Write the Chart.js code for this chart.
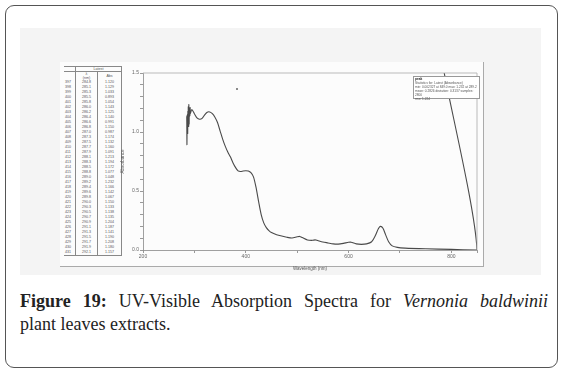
<!DOCTYPE html>
<html>
<head>
<meta charset="utf-8">
<script src="https://cdn.jsdelivr.net/npm/chart.js@4/dist/chart.umd.min.js"></script>
<style>
  html, body { margin: 0; padding: 0; background: #fff; }
  body { width: 565px; height: 377px; position: relative; overflow: hidden; font-family: "Liberation Sans", Arial, sans-serif; }
  .card { position: absolute; left: 5px; top: 5px; width: 551px; height: 361px; border: 1.5px solid #555; border-radius: 9px; }
  .scan { position: absolute; left: 20px; top: 28px; width: 521px; height: 247px; background: #f4f4f4; }
  .frame { position: absolute; left: 60px; top: 62px; width: 423px; height: 204px; background: #fcfcfc; border-right: 1px solid #aaa; border-bottom: 1px solid #aaa; }
  #chartBox { position: absolute; left: 120px; top: 62px; width: 370px; height: 210px; }
  .tbl { position: absolute; left: 64px; top: 66px; font-size: 3.6px; color: #555; }
  .tbl table { border-collapse: collapse; }
  .tbl td { padding: 0 1px; height: 5px; line-height: 5px; text-align: right; }
  .tbl td.n { text-align: left; width: 9px; }
  .tbl td.v { border-left: 0.6px solid #888; width: 19px; text-align: center; }
  .tbl td.a { border-left: 0.6px solid #888; border-right: 0.6px solid #888; width: 21px; text-align: center; }
  .tbl tr.h td { height: 4px; line-height: 4px; border-top: 0.6px solid #888; }
  .tbl tr.last td { border-bottom: 0.6px solid #888; }
  .legendbox { position: absolute; left: 413px; top: 76px; width: 67px; height: 23px; background: #fff; border: 0.8px solid #999; font-size: 3.2px; line-height: 4px; color: #555; padding: 0 1px; box-sizing: border-box; }
  .legendbox b { color: #222; }
  .speck { position: absolute; left: 236px; top: 88px; width: 2px; height: 2px; background: #666; border-radius: 1px; }
  .caption { position: absolute; left: 20px; top: 290px; width: 528px; font-family: "Liberation Serif", "Times New Roman", serif; font-size: 18px; line-height: 23px; color: #222; }
  .caption .l1 { text-align: justify; text-align-last: justify; }
</style>
</head>
<body>
<div class="card"></div>
<div class="scan"></div>
<div class="frame"></div>
<div class="tbl" id="tbl"></div>
<div id="chartBox"><canvas id="spectrum" width="370" height="210"></canvas></div>
<div class="speck"></div>
<div class="legendbox">
  <b>peak</b><br>
  Statistics for: Latest (Absorbance)<br>
  min: 0.002327 at 849.0 max: 1.232 at 289.2<br>
  mean: 0.2826 deviation: 0.3137 samples: 2800<br>
  rms: 1.224
</div>
<div class="caption">
  <div class="l1"><b>Figure 19:</b> UV-Visible Absorption Spectra for <i>Vernonia baldwinii</i></div>
  <div>plant leaves extracts.</div>
</div>
<script>
(function (window, document) {
    // table rows printed beside the plot (noisy start of the scan)
    const rowNumbers = [397, 398, 399, 400, 401, 402, 403, 404, 405, 406, 407, 408, 409, 410, 411, 412, 413, 414, 415, 416, 417, 418, 419, 420, 421, 422, 423, 424, 425, 426, 427, 428, 429, 430, 431];
    const tableWavelength = [284.8, 285.1, 285.3, 285.5, 285.8, 286.0, 286.2, 286.4, 286.6, 286.8, 287.0, 287.3, 287.5, 287.7, 287.9, 288.1, 288.3, 288.5, 288.8, 289.0, 289.2, 289.4, 289.6, 289.8, 290.0, 290.3, 290.5, 290.7, 290.9, 291.1, 291.3, 291.5, 291.7, 291.9, 292.1];
    const tableAbs = [1.120, 1.129, 1.033, 0.893, 1.054, 1.143, 1.125, 1.140, 0.991, 1.150, 0.987, 1.174, 1.132, 1.160, 1.091, 1.213, 1.194, 1.172, 1.077, 1.048, 1.232, 1.166, 1.142, 1.067, 1.150, 1.133, 1.138, 1.135, 1.204, 1.187, 1.141, 1.190, 1.208, 1.180, 1.157];

    // rest of the spectrum
    const wavelength = [295, 300, 305, 310, 315, 320, 325, 330, 335, 340, 345, 350, 355, 360, 365, 370, 375, 380, 385, 390, 395, 400, 405, 410, 415, 420, 425, 430, 435, 440, 445, 450, 460, 470, 480, 490, 500, 505, 510, 520, 530, 535, 540, 550, 560, 570, 580, 590, 600, 605, 615, 625, 635, 645, 652, 658, 662, 667, 672, 678, 685, 695, 710, 750, 800, 850, 784];
    const absorbance = [1.19, 1.155, 1.12, 1.108, 1.115, 1.145, 1.168, 1.17, 1.155, 1.125, 1.08, 1.01, 0.94, 0.88, 0.83, 0.79, 0.74, 0.70, 0.67, 0.665, 0.67, 0.672, 0.67, 0.655, 0.62, 0.53, 0.41, 0.30, 0.23, 0.19, 0.165, 0.148, 0.13, 0.118, 0.108, 0.102, 0.112, 0.115, 0.105, 0.085, 0.082, 0.086, 0.08, 0.068, 0.06, 0.052, 0.05, 0.056, 0.065, 0.066, 0.052, 0.048, 0.052, 0.07, 0.12, 0.18, 0.2, 0.185, 0.13, 0.07, 0.035, 0.022, 0.016, 0.01, 0.005, 0.0, 1.55];

    const xLabels = [200, 400, 600, 800];
    const yLabels = [0, 0.5, 1.0, 1.5];

    // table
    let html = '<table><tr class="h"><td class="n"></td><td class="v" colspan="2" style="border-right:0.6px solid #888">Latest</td></tr>' +
        '<tr class="h"><td class="n"></td><td class="v">&lambda;<br>(nm)</td><td class="a">Abs</td></tr>';
    rowNumbers.forEach(function (n, i) {
        html += '<tr' + (i === rowNumbers.length - 1 ? ' class="last"' : '') + '><td class="n">' + n + '</td><td class="v">' +
            tableWavelength[i].toFixed(1) + '</td><td class="a">' + tableAbs[i].toFixed(3) + '</td></tr>';
    });
    document.getElementById('tbl').innerHTML = html + '</table>';

    const points = tableWavelength.map((x, i) => ({ x: x, y: tableAbs[i] }))
        .concat(wavelength.map((x, i) => ({ x: x, y: absorbance[i] })));

    const frame = {
        id: 'frame',
        afterDraw(chart) {
            const a = chart.chartArea, ctx = chart.ctx;
            ctx.save();
            ctx.strokeStyle = '#aaa';
            ctx.lineWidth = 0.8;
            ctx.beginPath();
            ctx.moveTo(a.left, a.top);
            ctx.lineTo(a.right, a.top);
            ctx.lineTo(a.right, a.bottom);
            ctx.stroke();
            ctx.restore();
        }
    };

    const tickFont = { size: 5, family: 'Liberation Sans' };

    new Chart(document.getElementById('spectrum'), {
        type: 'scatter',
        data: {
            datasets: [{
                data: points,
                showLine: true,
                borderColor: '#4a4a4a',
                borderWidth: 1.1,
                pointRadius: 0,
                tension: 0.25
            }]
        },
        options: {
            responsive: false,
            animation: false,
            layout: { padding: { top: 11, right: 13, left: 0, bottom: 0 } },
            plugins: { legend: { display: false }, tooltip: { enabled: false } },
            scales: {
                x: {
                    type: 'linear',
                    min: 200,
                    max: 850,
                    afterFit: s => { s.height = 22; },
                    border: { color: '#888', width: 0.8 },
                    grid: { drawOnChartArea: false, tickLength: 3, color: '#999' },
                    ticks: {
                        stepSize: 100,
                        autoSkip: false,
                        maxRotation: 0,
                        padding: 1,
                        color: '#666',
                        font: tickFont,
                        callback: v => xLabels.includes(v) ? String(v) : ''
                    },
                    title: { display: true, text: 'Wavelength (nm)', color: '#555', font: { size: 4.5 }, padding: 1 }
                },
                y: {
                    min: 0,
                    max: 1.5,
                    afterFit: s => { s.width = 23; },
                    border: { color: '#888', width: 0.8 },
                    grid: { drawOnChartArea: false, tickLength: 3, color: '#999' },
                    ticks: {
                        stepSize: 0.1,
                        autoSkip: false,
                        padding: 1,
                        color: '#666',
                        font: tickFont,
                        callback: v => yLabels.some(l => Math.abs(l - v) < 1e-6) ? v.toFixed(1) : ''
                    },
                    title: { display: true, text: 'Absorbance', color: '#555', font: { size: 4.5 }, padding: 0 }
                }
            }
        },
        plugins: [frame]
    });
})(window, document);
</script>
</body>
</html>
